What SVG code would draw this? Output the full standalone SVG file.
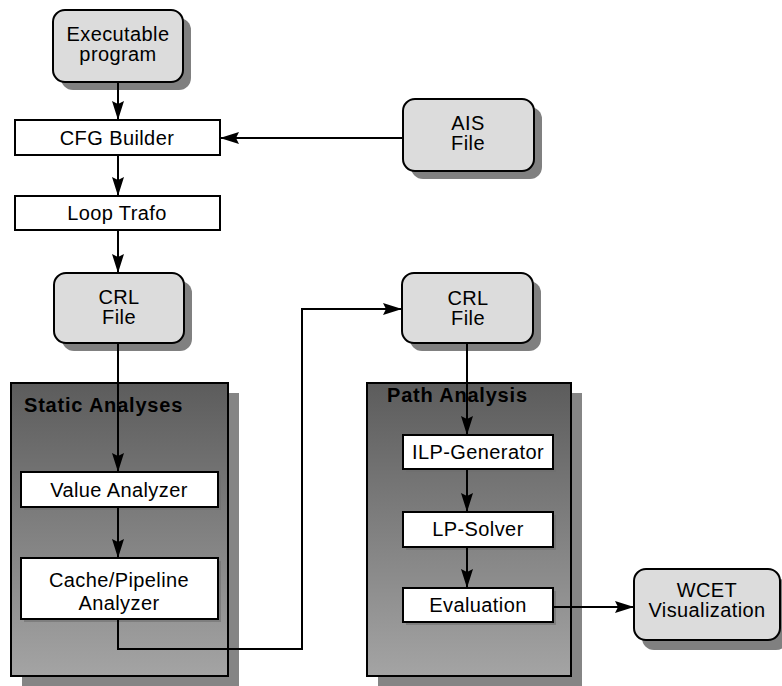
<svg xmlns="http://www.w3.org/2000/svg" width="782" height="686" viewBox="0 0 782 686">
<style>
text{font-family:"Liberation Sans",Arial,sans-serif;font-size:20px;letter-spacing:0.4px;fill:#000;text-anchor:middle}
.title{font-weight:bold;font-size:20px;letter-spacing:0.8px;text-anchor:start}
.file{fill:#dcdcdc;stroke:#000;stroke-width:2}
.shadow{fill:#808080}
.box{fill:#fff;stroke:#000;stroke-width:2}
.bshadow{fill:#6e6e6e;opacity:0.6}
.panel{fill:url(#pg);stroke:#000;stroke-width:2}
.pshadow{fill:#858585}
.conn{fill:none;stroke:#000;stroke-width:2}
</style>
<defs>
<linearGradient id="pg" x1="0" y1="0" x2="0" y2="1">
<stop offset="0" stop-color="#5c5c5c"/>
<stop offset="1" stop-color="#a4a4a4"/>
</linearGradient>
<marker id="ah" markerUnits="userSpaceOnUse" markerWidth="20" markerHeight="12" refX="19" refY="6" orient="auto">
<path d="M0,0 L19,6 L0,12 L3,6 z" fill="#000"/>
</marker>
</defs>
<g id="panel-static">
<rect class="pshadow" x="22" y="393" width="217" height="293"/>
<rect class="panel" x="11" y="383" width="217" height="293"/>
<text class="title" x="24" y="412">Static Analyses</text>
</g>
<g id="panel-path">
<rect class="pshadow" x="378" y="393" width="204" height="293"/>
<rect class="panel" x="367" y="383" width="204" height="293"/>
<text class="title" x="387" y="402">Path Analysis</text>
</g>
<g id="exec">
<rect class="shadow" x="61" y="18" width="130" height="72" rx="12"/>
<rect class="file" x="53" y="10" width="130" height="72" rx="12"/>
<text x="118" y="41">Executable</text>
<text x="118" y="61">program</text>
</g>
<g id="cfg">
<rect class="box" x="15" y="120" width="205" height="35"/>
<text x="117" y="145">CFG Builder</text>
</g>
<g id="ais">
<rect class="shadow" x="411" y="107" width="131" height="72" rx="12"/>
<rect class="file" x="403" y="99" width="131" height="72" rx="12"/>
<text x="468" y="130">AIS</text>
<text x="468" y="150">File</text>
</g>
<g id="loop">
<rect class="box" x="15" y="196" width="205" height="34"/>
<text x="117" y="220">Loop Trafo</text>
</g>
<g id="crl1">
<rect class="shadow" x="62" y="281" width="130" height="70" rx="12"/>
<rect class="file" x="54" y="273" width="130" height="70" rx="12"/>
<text x="119" y="304">CRL</text>
<text x="119" y="324">File</text>
</g>
<g id="crl2">
<rect class="shadow" x="410" y="281" width="131" height="70" rx="12"/>
<rect class="file" x="402" y="273" width="131" height="70" rx="12"/>
<text x="468" y="305">CRL</text>
<text x="468" y="325">File</text>
</g>
<g id="value">
<rect class="bshadow" x="24" y="475" width="197" height="35"/>
<rect class="box" x="21" y="472" width="197" height="35"/>
<text x="119" y="497">Value Analyzer</text>
</g>
<g id="cache">
<rect class="bshadow" x="24" y="561" width="197" height="61"/>
<rect class="box" x="21" y="558" width="197" height="61"/>
<text x="119" y="587">Cache/Pipeline</text>
<text x="119" y="610">Analyzer</text>
</g>
<g id="ilp">
<rect class="bshadow" x="406" y="438" width="150" height="34"/>
<rect class="box" x="403" y="435" width="150" height="34"/>
<text x="478" y="459">ILP-Generator</text>
</g>
<g id="lp">
<rect class="bshadow" x="406" y="515" width="150" height="35"/>
<rect class="box" x="403" y="512" width="150" height="35"/>
<text x="478" y="536">LP-Solver</text>
</g>
<g id="eval">
<rect class="bshadow" x="406" y="591" width="150" height="34"/>
<rect class="box" x="403" y="588" width="150" height="34"/>
<text x="478" y="612">Evaluation</text>
</g>
<g id="wcet">
<rect class="shadow" x="642" y="578" width="146" height="72" rx="12"/>
<rect class="file" x="634" y="569" width="146" height="71" rx="12"/>
<text x="707" y="597">WCET</text>
<text x="707" y="617">Visualization</text>
</g>
<g id="connectors">
<path class="conn" marker-end="url(#ah)" d="M118,82 V120"/>
<path class="conn" marker-end="url(#ah)" d="M403,138 H220"/>
<path class="conn" marker-end="url(#ah)" d="M118,155 V196"/>
<path class="conn" marker-end="url(#ah)" d="M118,230 V273"/>
<path class="conn" marker-end="url(#ah)" d="M118,343 V472"/>
<path class="conn" marker-end="url(#ah)" d="M118,507 V558"/>
<path class="conn" marker-end="url(#ah)" d="M118,619 V649 H302 V309 H402"/>
<path class="conn" marker-end="url(#ah)" d="M467,343 V435"/>
<path class="conn" marker-end="url(#ah)" d="M467,469 V512"/>
<path class="conn" marker-end="url(#ah)" d="M467,547 V588"/>
<path class="conn" marker-end="url(#ah)" d="M553,607 H634"/>
</g>
</svg>
